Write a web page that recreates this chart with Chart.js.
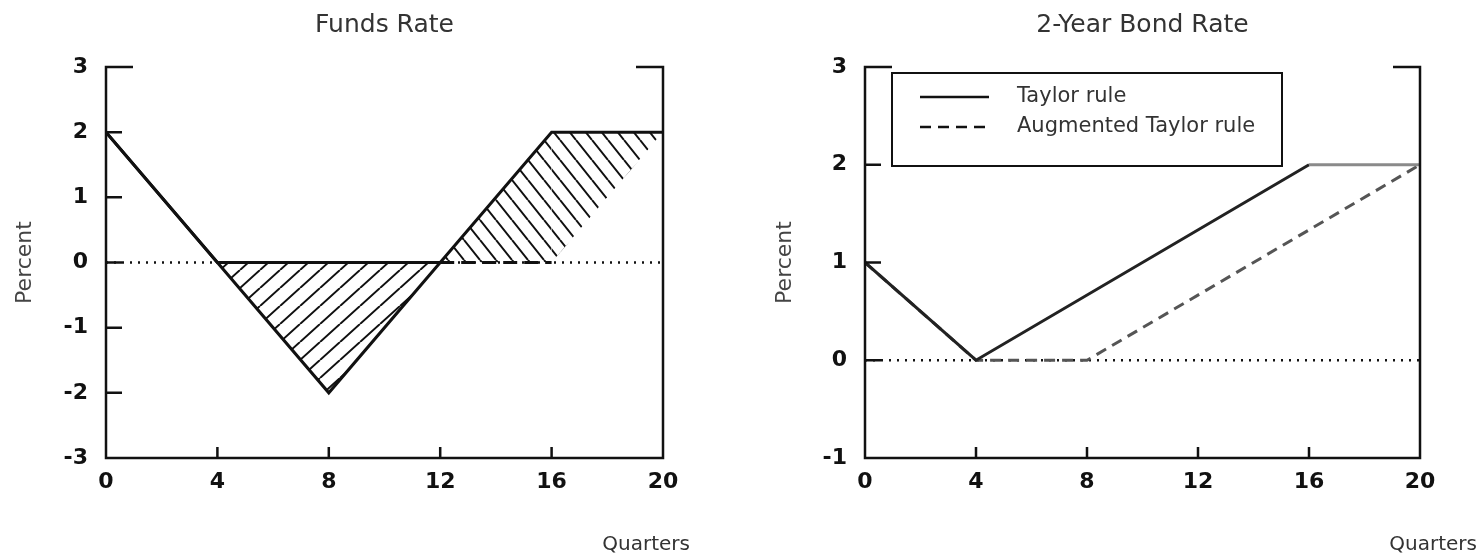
<!DOCTYPE html>
<html>
<head>
<meta charset="utf-8">
<script src="https://cdn.jsdelivr.net/npm/chart.js@4.4.1/dist/chart.umd.min.js"></script>
<style>
  body { margin: 0; background: #fff; }
  .panel { position: absolute; top: 0; width: 742px; height: 560px; }
</style>
</head>
<body>
<div class="panel" style="left:0"><canvas id="fundsChart" width="742" height="560"></canvas></div>
<div class="panel" style="left:742px"><canvas id="bondChart" width="742" height="560"></canvas></div>
<script>
  const quarterTicks = [0, 4, 8, 12, 16, 20];

  // Funds rate panel
  const fundsQuarters = [0, 4, 8, 12, 16, 20];
  const fundsTaylor = [2, 0, -2, 0, 2, 2];
  const fundsAugmented = [2, 0, 0, 0, 0, 2];
  const fundsTicks = [-3, -2, -1, 0, 1, 2, 3];

  // 2-year bond panel
  const bondTaylorQuarters = [0, 4, 16, 20];
  const bondTaylor = [1, 0, 2, 2];
  const bondAugQuarters = [0, 4, 8, 20];
  const bondAugmented = [1, 0, 0, 2];
  const bondTicks = [-1, 0, 1, 2, 3];

  const zeroQuarters = [0, 20];
  const zeroLine = [0, 0];

  const FONT = "'DejaVu Sans', sans-serif";
  Chart.defaults.font.family = FONT;

  const pts = (xs, ys) => xs.map((x, i) => ({ x: x, y: ys[i] }));

  // diagonal hatch tiles
  function hatch(w, h, forward) {
    const c = document.createElement("canvas");
    c.width = w; c.height = h;
    const g = c.getContext("2d");
    g.strokeStyle = "#111";
    g.lineWidth = 2;
    g.beginPath();
    for (let k = -1; k <= 1; k++) {
      if (forward) { g.moveTo(k * w, h); g.lineTo(k * w + w, 0); }
      else { g.moveTo(k * w, 0); g.lineTo(k * w + w, h); }
    }
    g.stroke();
    return g.createPattern(c, "repeat");
  }
  const slash = hatch(20, 18, true);
  const backslash = hatch(16, 20, false);

  // box with open top, inward ticks, "Quarters" label
  const framePlugin = {
    id: "frame",
    afterDatasetsDraw(chart, args, opts) {
      const { ctx, chartArea: a, scales: { x, y } } = chart;
      ctx.save();
      ctx.strokeStyle = "#111";
      ctx.lineWidth = 2.5;
      ctx.beginPath();
      ctx.moveTo(a.left + 27, a.top);
      ctx.lineTo(a.left, a.top);
      ctx.lineTo(a.left, a.bottom);
      ctx.lineTo(a.right, a.bottom);
      ctx.lineTo(a.right, a.top);
      ctx.lineTo(a.right - 27, a.top);
      y.ticks.slice(1, -1).forEach(t => {
        const py = y.getPixelForValue(t.value);
        ctx.moveTo(a.left, py); ctx.lineTo(a.left + 16, py);
      });
      x.ticks.slice(1, -1).forEach(t => {
        const px = x.getPixelForValue(t.value);
        ctx.moveTo(px, a.bottom); ctx.lineTo(px, a.bottom - 11);
      });
      ctx.stroke();
      ctx.fillStyle = "#333";
      ctx.font = "20px " + FONT;
      ctx.textAlign = "right";
      ctx.textBaseline = "middle";
      ctx.fillText("Quarters", a.right + opts.quartersDx, a.bottom + 87);
      ctx.restore();
    }
  };

  const boxLegend = {
    id: "boxLegend",
    afterDraw(chart) {
      const { ctx, chartArea: a } = chart;
      const x0 = a.left + 27, y0 = a.top + 6, w = 390, h = 93;
      ctx.save();
      ctx.fillStyle = "#fff";
      ctx.fillRect(x0, y0, w, h);
      ctx.strokeStyle = "#111";
      ctx.lineWidth = 2;
      ctx.strokeRect(x0, y0, w, h);
      chart.data.datasets.filter(d => d.label).forEach((d, i) => {
        const ly = y0 + 24 + i * 30;
        ctx.setLineDash(d.borderDash || []);
        ctx.lineWidth = 2.5;
        ctx.strokeStyle = "#111";
        ctx.beginPath();
        ctx.moveTo(x0 + 28, ly); ctx.lineTo(x0 + 97, ly);
        ctx.stroke();
        ctx.setLineDash([]);
        ctx.fillStyle = "#333";
        ctx.font = "21px " + FONT;
        ctx.textAlign = "left";
        ctx.textBaseline = "middle";
        ctx.fillText(d.label, x0 + 125, ly);
      });
      ctx.restore();
    }
  };

  function panelOptions(cfg) {
    return {
      responsive: false,
      animation: false,
      layout: { padding: { left: 0, right: cfg.padRight, top: 0, bottom: 0 } },
      plugins: {
        legend: { display: false },
        tooltip: { enabled: false },
        title: {
          display: true, text: cfg.title, fullSize: false, color: "#333",
          font: { size: 25, weight: "normal" }, padding: { top: 10, bottom: 27 }
        },
        frame: { quartersDx: cfg.quartersDx }
      },
      scales: {
        x: {
          type: "linear", min: 0, max: 20,
          afterBuildTicks: s => { s.ticks = quarterTicks.map(v => ({ value: v })); },
          afterFit: s => { s.height = 102; },
          grid: { display: false }, border: { display: false },
          ticks: { autoSkip: false, padding: 3, color: "#111", font: { size: 22, weight: "bold" } }
        },
        y: {
          min: cfg.yTicks[0], max: cfg.yTicks[cfg.yTicks.length - 1],
          afterBuildTicks: s => { s.ticks = cfg.yTicks.map(v => ({ value: v })); },
          afterFit: s => { s.width = cfg.yWidth; },
          grid: { display: false }, border: { display: false },
          ticks: { autoSkip: false, padding: 10, color: "#111", font: { size: 22, weight: "bold" } },
          title: {
            display: true, text: "Percent", color: "#444",
            font: { size: 22 }, padding: { top: cfg.yTitlePad, bottom: 0 }
          }
        }
      },
      elements: { point: { radius: 0 }, line: { tension: 0 } }
    };
  }

  const zeroDataset = () => ({
    data: pts(zeroQuarters, zeroLine),
    borderColor: "#111", borderWidth: 2.5, borderDash: [2, 6], fill: false
  });

  new Chart(document.getElementById("fundsChart"), {
    type: "line",
    data: {
      datasets: [
        {
          data: pts(fundsQuarters, fundsTaylor),
          borderColor: "#111", borderWidth: 3,
          fill: { target: 1, above: backslash, below: slash }
        },
        {
          data: pts(fundsQuarters, fundsAugmented),
          borderColor: "#111", borderWidth: 3, fill: false,
          segment: {
            borderDash: c => c.p0DataIndex === 3 ? [14, 7] : undefined,
            borderColor: c => c.p0DataIndex === 4 ? "rgba(0,0,0,0)" : undefined
          }
        },
        zeroDataset()
      ]
    },
    options: panelOptions({ title: "Funds Rate", yTicks: fundsTicks, yWidth: 106, yTitlePad: 12, padRight: 79, quartersDx: 27 }),
    plugins: [framePlugin]
  });

  new Chart(document.getElementById("bondChart"), {
    type: "line",
    data: {
      datasets: [
        {
          label: "Taylor rule",
          data: pts(bondTaylorQuarters, bondTaylor),
          borderColor: "#222", borderWidth: 3, fill: false,
          segment: { borderColor: c => c.p0DataIndex === 2 ? "#8a8a8a" : undefined }
        },
        {
          label: "Augmented Taylor rule",
          data: pts(bondAugQuarters, bondAugmented),
          borderColor: "#555", borderWidth: 3, borderDash: [11, 7], fill: false
        },
        zeroDataset()
      ]
    },
    options: panelOptions({ title: "2-Year Bond Rate", yTicks: bondTicks, yWidth: 123, yTitlePad: 30, padRight: 64, quartersDx: 57 }),
    plugins: [framePlugin, boxLegend]
  });
</script>
</body>
</html>
